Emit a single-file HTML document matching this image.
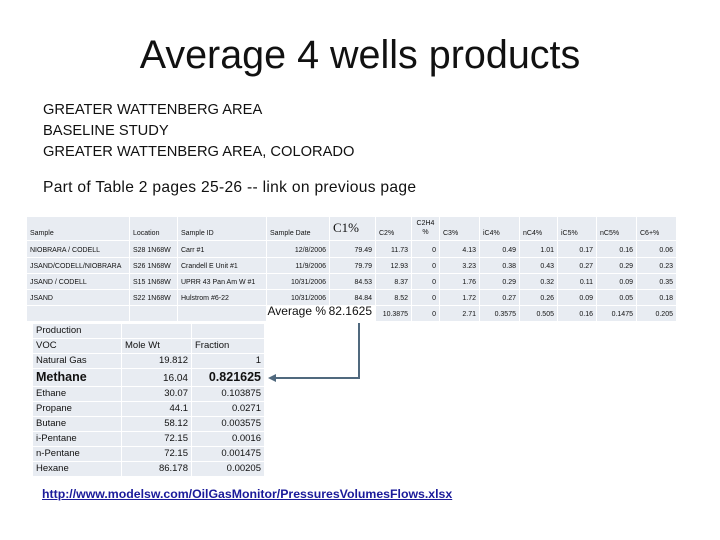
<!DOCTYPE html>
<html><head><meta charset="utf-8"><style>
body{margin:0;width:720px;height:540px;background:#fff;overflow:hidden;position:relative;font-family:"Liberation Sans",sans-serif;}
.c{position:absolute;background:#e8ecf2;box-sizing:border-box;font-size:7px;color:#111;white-space:nowrap;overflow:visible;padding:0 3px;display:flex;align-items:flex-end;padding-bottom:3px;}
.r{justify-content:flex-end;}
.t{position:absolute;white-space:nowrap;color:#111;}
</style></head><body>
<div class="t" style="left:0;width:720px;text-align:center;top:33px;font-size:39.5px;">Average 4 wells products</div>
<div class="t" style="left:43px;top:102px;font-size:14.7px;">GREATER WATTENBERG AREA</div>
<div class="t" style="left:43px;top:123px;font-size:14.7px;">BASELINE STUDY</div>
<div class="t" style="left:43px;top:144px;font-size:14.7px;">GREATER WATTENBERG AREA, COLORADO</div>
<div class="t" style="left:43px;top:179px;font-size:15.6px;letter-spacing:0.3px;">Part of Table 2 pages 25-26 -- link on previous page</div>
<div id="tables"></div>
<svg style="position:absolute;left:0;top:0" width="720" height="540">
<polyline points="359,323 359,378 274,378" fill="none" stroke="#50697e" stroke-width="2"/>
<polygon points="268,378 276,374 276,382" fill="#50697e"/>
</svg>
<a href="#" style="position:absolute;left:42px;top:487px;font-size:12.3px;font-weight:bold;color:#1a1a9a;text-decoration:underline;">http://www.modelsw.com/OilGasMonitor/PressuresVolumesFlows.xlsx</a>
<script>
const root=document.getElementById('tables');
function cell(x1,x2,y1,y2,txt,right,style,name){
  const d=document.createElement('div');
  d.className='c'+(right?' r':'');
  d.style.left=x1+'px';d.style.width=(x2-x1-1)+'px';d.style.top=y1+'px';d.style.height=(y2-y1-1)+'px';
  if(style)d.style.cssText+=style;
  d.textContent=txt;
  
  
  root.appendChild(d);
}
const cols=[[27,130],[130,178],[178,267],[267,330],[330,376],[376,412],[412,440],[440,480],[480,520],[520,558],[558,597],[597,637],[637,677]];
const headers=['Sample','Location','Sample ID','Sample Date','C1%','C2%','C2H4 %','C3%','iC4%','nC4%','iC5%','nC5%','C6+%'];
const rowsData=[
['NIOBRARA / CODELL','S28 1N68W','Carr #1','12/8/2006','79.49','11.73','0','4.13','0.49','1.01','0.17','0.16','0.06'],
['JSAND/CODELL/NIOBRARA','S26 1N68W','Crandell E Unit #1','11/9/2006','79.79','12.93','0','3.23','0.38','0.43','0.27','0.29','0.23'],
['JSAND / CODELL','S15 1N68W','UPRR 43 Pan Am W #1','10/31/2006','84.53','8.37','0','1.76','0.29','0.32','0.11','0.09','0.35'],
['JSAND','S22 1N68W','Hulstrom #6-22','10/31/2006','84.84','8.52','0','1.72','0.27','0.26','0.09','0.05','0.18']];
const avgRow=['','','','Average %','82.1625','10.3875','0','2.71','0.3575','0.505','0.16','0.1475','0.205'];
const rowY=[[217,241],[241,258],[258,274],[274,290],[290,306],[306,322]];
headers.forEach((h,i)=>cell(cols[i][0],cols[i][1],rowY[0][0],rowY[0][1],h,false,i==4?'font-size:13px;font-family:"Liberation Serif",serif;padding-bottom:4px;':(i==6?'white-space:normal;text-align:center;line-height:9px;':''),'header-'+i));
rowsData.forEach((r,j)=>r.forEach((v,i)=>cell(cols[i][0],cols[i][1],rowY[j+1][0],rowY[j+1][1],v,i>=3,'','cell-r'+j+'-c'+i)));
avgRow.forEach((v,i)=>cell(cols[i][0],cols[i][1],rowY[5][0],rowY[5][1],v,i>=3,(i==3||i==4)?'font-size:12px;background:#fff;':'','avg-c'+i));
const lcols=[[33,122],[122,192],[192,265]];
const lrows=[['Production','',''],['VOC','Mole Wt','Fraction'],['Natural Gas','19.812','1'],['Methane','16.04','0.821625'],['Ethane','30.07','0.103875'],['Propane','44.1','0.0271'],['Butane','58.12','0.003575'],['i-Pentane','72.15','0.0016'],['n-Pentane','72.15','0.001475'],['Hexane','86.178','0.00205']];
let y=324;
lrows.forEach((r,j)=>{const h=j==3?18:15;
  r.forEach((v,i)=>cell(lcols[i][0],lcols[i][1],y,y+h,v,i>=1&&j!=1,(j==3?(i==1?'font-size:10px;':'font-size:12.5px;font-weight:bold;'):'font-size:9.5px;')+'padding-bottom:2px;','vol-r'+j+'-c'+i));
  y+=h;});
</script>
</body></html>
